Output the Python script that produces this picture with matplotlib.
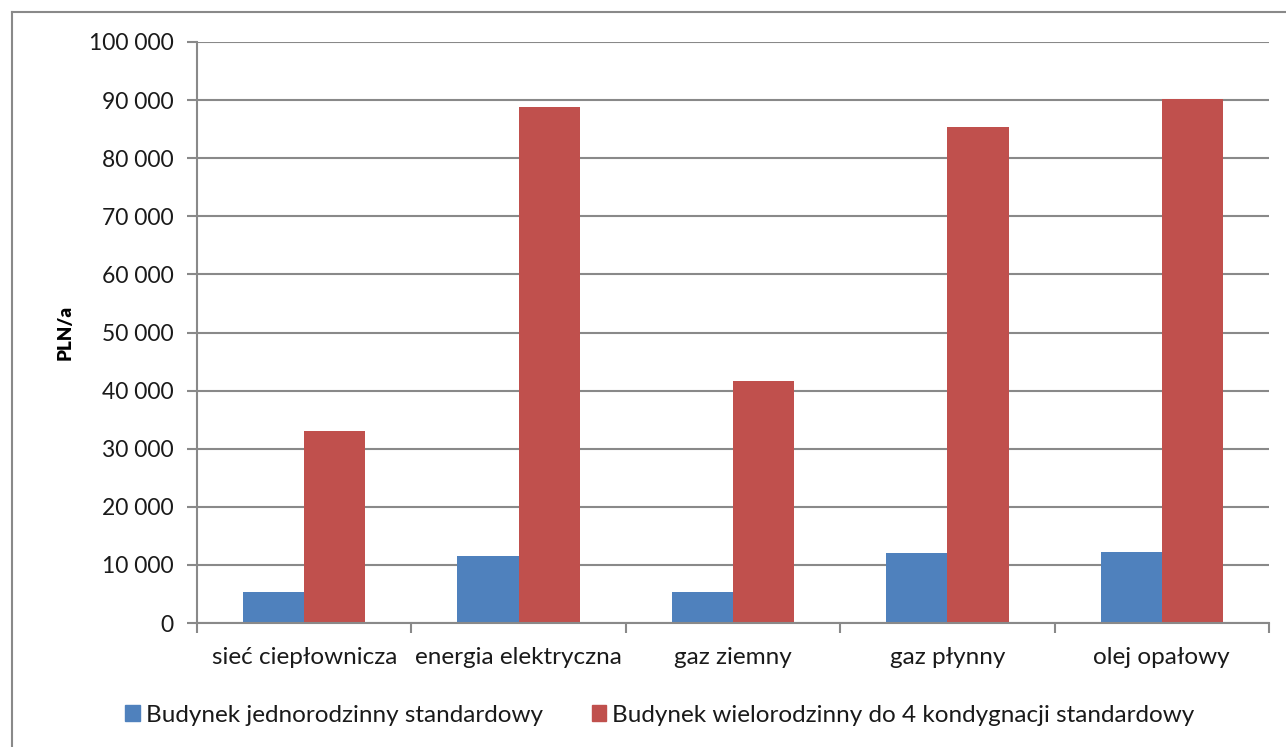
import numpy as np
import matplotlib
matplotlib.use('Agg')
import matplotlib.pyplot as plt
from matplotlib.ticker import FuncFormatter
from matplotlib.lines import Line2D
from matplotlib.patches import Patch

categories = ['sieć ciepłownicza', 'energia elektryczna', 'gaz ziemny', 'gaz płynny', 'olej opałowy']
jednorodzinny = [5400, 11550, 5350, 12050, 12200]
wielorodzinny = [33050, 88750, 41650, 85350, 90150]
series_names = ['Budynek jednorodzinny standardowy',
                'Budynek wielorodzinny do 4 kondygnacji standardowy']
yticks = np.arange(0, 100001, 10000)

plt.rcParams['font.family'] = ['Lato', 'DejaVu Sans']
blue = '#4f81bd'
red = '#c0504d'
grey = '#898989'
text_col = '#1a1a1a'

fig = plt.figure(figsize=(12.86, 7.47), dpi=100)
ax = fig.add_axes([197/1286, 124/747, 1072/1286, 581/747])

ind = np.arange(len(categories))
width = 1 / 3.5
ax.bar(ind - width/2, jednorodzinny, width, color=blue, label=series_names[0])
ax.bar(ind + width/2, wielorodzinny, width, color=red, label=series_names[1])

ax.set_xlim(-0.5, len(categories) - 0.5)
ax.set_ylim(0, 100000)
ax.set_yticks(yticks)
ax.yaxis.set_major_formatter(FuncFormatter(lambda v, p: f'{int(v):,}'.replace(',', ' ')))
ax.set_xticks(np.arange(-0.5, len(categories)))
ax.set_xticklabels([])
ax.set_xticks(ind, minor=True)
ax.set_xticklabels(categories, minor=True)
ax.tick_params(axis='x', which='minor', length=0, pad=17, labelsize=17.5, labelcolor=text_col)
ax.tick_params(axis='x', which='major', length=7, width=1.5, color=grey)
ax.tick_params(axis='y', length=7, width=1.5, color=grey, labelsize=16.5, pad=10,
               labelcolor=text_col)

ax.grid(axis='y', color=grey, linewidth=1.5)
ax.set_axisbelow(True)
for s in ['top', 'right']:
    ax.spines[s].set_visible(False)
for s in ['left', 'bottom']:
    ax.spines[s].set_color(grey)
    ax.spines[s].set_linewidth(1.5)

ax.set_ylabel('PLN/a', fontsize=13.5, fontweight='heavy', labelpad=11)

handles = [Patch(color=blue), Patch(color=red)]
fig.legend(handles, series_names, loc='center', bbox_to_anchor=(660/1286, 32/747),
           ncol=2, frameon=False, fontsize=17.5, handlelength=0.6, handleheight=0.6,
           handletextpad=0.25, columnspacing=2.0, labelcolor=text_col)

# outer chart frame
fig.add_artist(Line2D([12/1286, 12/1286], [0, 1 - 12/747], color=grey, lw=1.5))
fig.add_artist(Line2D([12/1286, 1], [1 - 12/747, 1 - 12/747], color=grey, lw=1.5))

fig.savefig('out.png', dpi=100)
